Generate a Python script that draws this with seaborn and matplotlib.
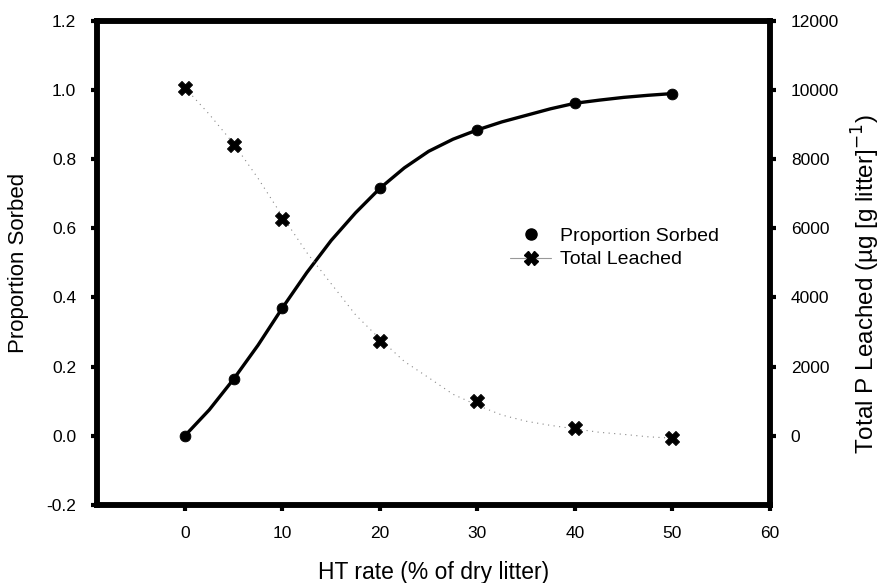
import numpy as np
import pandas as pd
import matplotlib
matplotlib.use("Agg")
import matplotlib.pyplot as plt
from matplotlib.lines import Line2D
import seaborn as sns

# measured points
ht_rate = [0, 5, 10, 20, 30, 40, 50]
prop_sorbed = [0.0, 0.164, 0.370, 0.716, 0.885, 0.962, 0.990]
total_leached = [10070, 8415, 6283, 2745, 1018, 220, -70]

# fitted curves
curve_x = [0, 2.5, 5, 7.5, 10, 12.5, 15, 17.5, 20, 22.5, 25, 27.5, 30,
           32.5, 35, 37.5, 40, 42.5, 45, 47.5, 50]
sorbed_fit = [0.0, 0.075, 0.164, 0.262, 0.370, 0.472, 0.565, 0.645, 0.716,
              0.775, 0.823, 0.858, 0.885, 0.908, 0.927, 0.946, 0.962,
              0.971, 0.979, 0.985, 0.990]
leached_fit = [10070, 9300, 8450, 7450, 6350, 5300, 4400, 3500, 2800, 2150,
               1680, 1200, 880, 600, 420, 300, 200, 100, 40, -30, -70]

pts = pd.DataFrame({"x": ht_rate, "sorbed": prop_sorbed, "leached": total_leached})
fit = pd.DataFrame({"x": curve_x, "sorbed": sorbed_fit, "leached": leached_fit})

sns.set_style("ticks")
plt.rcParams["font.family"] = ["Liberation Sans", "DejaVu Sans"]
plt.rcParams["text.color"] = "black"
plt.rcParams["axes.labelcolor"] = "black"
plt.rcParams["xtick.color"] = "black"
plt.rcParams["ytick.color"] = "black"
plt.rcParams["axes.edgecolor"] = "black"

fig = plt.figure(figsize=(8.83, 5.83), dpi=100)
ax = fig.add_axes([0.110, 0.134, 0.762, 0.830])
ax2 = ax.twinx()

# proportion sorbed (left axis)
sns.lineplot(data=fit, x="x", y="sorbed", ax=ax, color="black", lw=2.4, zorder=2)
sns.scatterplot(data=pts, x="x", y="sorbed", ax=ax, color="black", marker="o",
                s=60, edgecolor="black", zorder=3, legend=False)

# total leached (right axis)
sns.lineplot(data=fit, x="x", y="leached", ax=ax2, color="#888888", lw=0.8,
             linestyle=(0, (1, 4)), zorder=2)
sns.scatterplot(data=pts, x="x", y="leached", ax=ax2, color="black", marker="X",
                s=100, edgecolor="black", zorder=3, legend=False)

ax.set_xlim(-9, 60)
ax.set_ylim(-0.2, 1.2)
ax.set_xticks([0, 10, 20, 30, 40, 50, 60])
ax.set_yticks(np.arange(-0.2, 1.21, 0.2))
ax.yaxis.set_major_formatter(matplotlib.ticker.FormatStrFormatter("%.1f"))
ax2.set_ylim(-2000, 12000)
ax2.set_yticks(range(0, 12001, 2000))

ax.set_xlabel("HT rate (% of dry litter)", fontsize=16.5)
ax.set_ylabel("Proportion Sorbed", fontsize=16)
ax2.set_ylabel("Total P Leached (µg [g litter]$^{-1}$)", fontsize=17.5)
ax.xaxis.set_label_coords(0.5, -0.117)
ax.xaxis.label.set_va("top")
ax.yaxis.set_label_coords(-0.117, 0.5)
ax.yaxis.label.set_va("center")
ax2.yaxis.set_label_coords(1.142, 0.457)
ax2.yaxis.label.set_va("center")

for a in (ax, ax2):
    for sp in a.spines.values():
        sp.set_linewidth(4)
    a.tick_params(axis="both", direction="out", length=4, width=3,
                  labelsize=12.5, pad=11)

# legend with both entries
handles = [
    Line2D([], [], color="black", marker="o", linestyle="none", markersize=8),
    Line2D([], [], color="#999999", lw=0.8, marker="X", markersize=10,
           markerfacecolor="black", markeredgecolor="black"),
]
ax.legend(handles, ["Proportion Sorbed", "Total Leached"], loc="center left",
          bbox_to_anchor=(0.588, 0.531), frameon=False, fontsize=14,
          handlelength=2.1, handletextpad=0.45, labelspacing=0.3)

fig.savefig("out.png", dpi=100)
